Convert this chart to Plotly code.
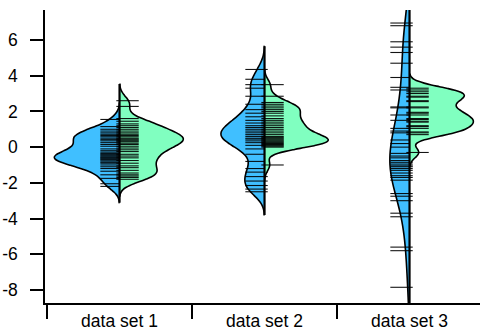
import plotly.graph_objects as go

categories = ["data set 1", "data set 2", "data set 3"]

set1_left = [1.55, 1.15, 1.0, 0.9, 0.8, 0.72, 0.65, 0.58, 0.5, 0.42, 0.35, 0.25, 0.15, 0.05,
             -0.1, -0.2, -0.28, -0.35, -0.4, -0.45, -0.5, -0.55, -0.6, -0.62, -0.68, -0.72,
             -0.78, -0.85, -0.9, -1.0, -1.1, -1.2, -1.35, -1.55, -1.75, -2.05, -2.2]
set1_right = [2.6, 2.28, 1.6, 1.45, 1.3, 1.2, 1.1, 1.0, 0.9, 0.8, 0.72, 0.65, 0.58, 0.5, 0.45,
              0.4, 0.35, 0.3, 0.22, 0.15, 0.05, -0.05, -0.15, -0.25, -0.4, -0.5, -0.6, -0.75,
              -0.9, -1.05, -1.15, -1.3, -1.45, -1.55, -1.62, -1.7, -1.8]
set2_left = [4.35, 3.8, 3.5, 3.3, 2.85, 2.4, 2.1, 1.9, 1.7, 1.5, 1.35, 1.2, 1.1, 1.0, 0.9, 0.8,
             0.7, 0.6, 0.5, 0.45, 0.35, 0.25, 0.1, -0.1, -0.4, -0.8, -1.2, -1.4, -1.65,
             -1.9, -2.15, -2.35, -2.5]
set2_right = [3.5, 2.85, 2.5, 2.4, 2.3, 2.2, 2.1, 2.0, 1.9, 1.75, 1.6, 1.5, 1.4, 1.3, 1.2, 1.1,
              1.0, 0.9, 0.8, 0.7, 0.6, 0.55, 0.5, 0.45, 0.4, 0.35, 0.3, 0.25, 0.2, 0.15, 0.1,
              0.05, 0.0, -1.0]
set3_left = [6.95, 6.8, 5.9, 5.6, 5.3, 4.7, 3.9, 3.35, 3.2, 2.25, 2.2, 1.8, 1.5, 1.05, 0.9, 0.8,
             0.4, 0.2, 0.0, -0.35, -0.5, -0.6, -0.75, -0.85, -0.95, -1.05, -1.1, -1.2, -1.3,
             -1.45, -1.6, -1.7, -1.85, -2.6, -2.75, -3.0, -3.7, -3.9, -5.6, -5.8, -7.85]
set3_right = [3.3, 3.2, 3.1, 3.0, 2.85, 2.8, 2.6, 2.55, 2.25, 2.2, 1.95, 1.9, 1.8, 1.6, 1.55,
              1.45, 1.4, 1.2, 1.15, 1.05, 0.85, 0.8, 0.7, -0.3]

left_sets = [set1_left, set2_left, set3_left]
right_sets = [set1_right, set2_right, set3_right]

# kernel bandwidths and relative widths (style parameters)
left_bw = [0.35, 0.5, 1.6]
right_bw = [0.36, 0.32, 0.3]
left_width = [0.9, 0.6, 0.27]
right_width = [0.88, 0.88, 0.88]
SPAN_K = 2.6

y_tickvals = [-8, -6, -4, -2, 0, 2, 4, 6]
y_ticktext = ["-8", "-6", "-4", "-2", "0", "2", "4", "6"]

BLUE = "#40BFFF"
GREEN = "#80FFC0"
CAT_PX = 145.0

fig = go.Figure()
for i, cat in enumerate(categories):
    specs = [
        ("negative", left_sets[i], BLUE, left_bw[i], left_width[i], -1),
        ("positive", right_sets[i], GREEN, right_bw[i], right_width[i], 1),
    ]
    lo, hi = [], []
    for side, vals, color, bw, w, sgn in specs:
        half_px = w / 2 * CAT_PX
        span = [min(vals) - SPAN_K * min(bw, 0.5), max(vals) + SPAN_K * min(bw, 0.5)]
        if bw > 1:
            span = [min(vals) - 2 * bw, max(vals) + 2 * bw]
        fig.add_trace(go.Violin(
            x=[cat] * len(vals), y=vals, side=side,
            fillcolor=color, opacity=1,
            line=dict(color="black", width=1.6),
            scalegroup="%s%d" % (side, i), scalemode="width", width=w,
            bandwidth=bw, spanmode="manual", span=span,
            points="all", jitter=0, pointpos=sgn * 8.0 / half_px,
            marker=dict(symbol="line-ew", size=16,
                        line=dict(width=1.1, color="rgba(0,0,0,0.92)")),
            showlegend=False, hoveron="violins",
        ))
        lo.append(span[0])
        hi.append(span[1])
    fig.add_trace(go.Scatter(
        x=[cat, cat], y=[min(lo), max(hi)], mode="lines",
        line=dict(color="black", width=2.2), showlegend=False, hoverinfo="skip",
    ))

fig.update_layout(
    width=480, height=330,
    margin=dict(l=45, r=0, t=10, b=27),
    paper_bgcolor="white", plot_bgcolor="white",
    violinmode="overlay",
    font=dict(family="Liberation Sans, Arial, sans-serif", size=17.5, color="black"),
    xaxis=dict(type="category", categoryarray=categories, range=[-0.514, 2.486],
               tickson="boundaries", ticks="outside", ticklen=14, tickwidth=1.5,
               tickcolor="black", showline=True, linewidth=1.5, linecolor="black",
               showgrid=False, zeroline=False, automargin=False,
               ticklabelstandoff=1),
    yaxis=dict(range=[-8.73, 7.68], tickvals=y_tickvals, ticktext=y_ticktext,
               ticks="outside", ticklen=13, tickwidth=1.5, tickcolor="black",
               showline=True, linewidth=1.5, linecolor="black",
               showgrid=False, zeroline=False, automargin=False,
               ticklabelstandoff=9),
)

fig.write_html("out.html", config={"displayModeBar": False},
               post_script="document.body.style.margin='0';document.body.style.overflow='hidden';")
